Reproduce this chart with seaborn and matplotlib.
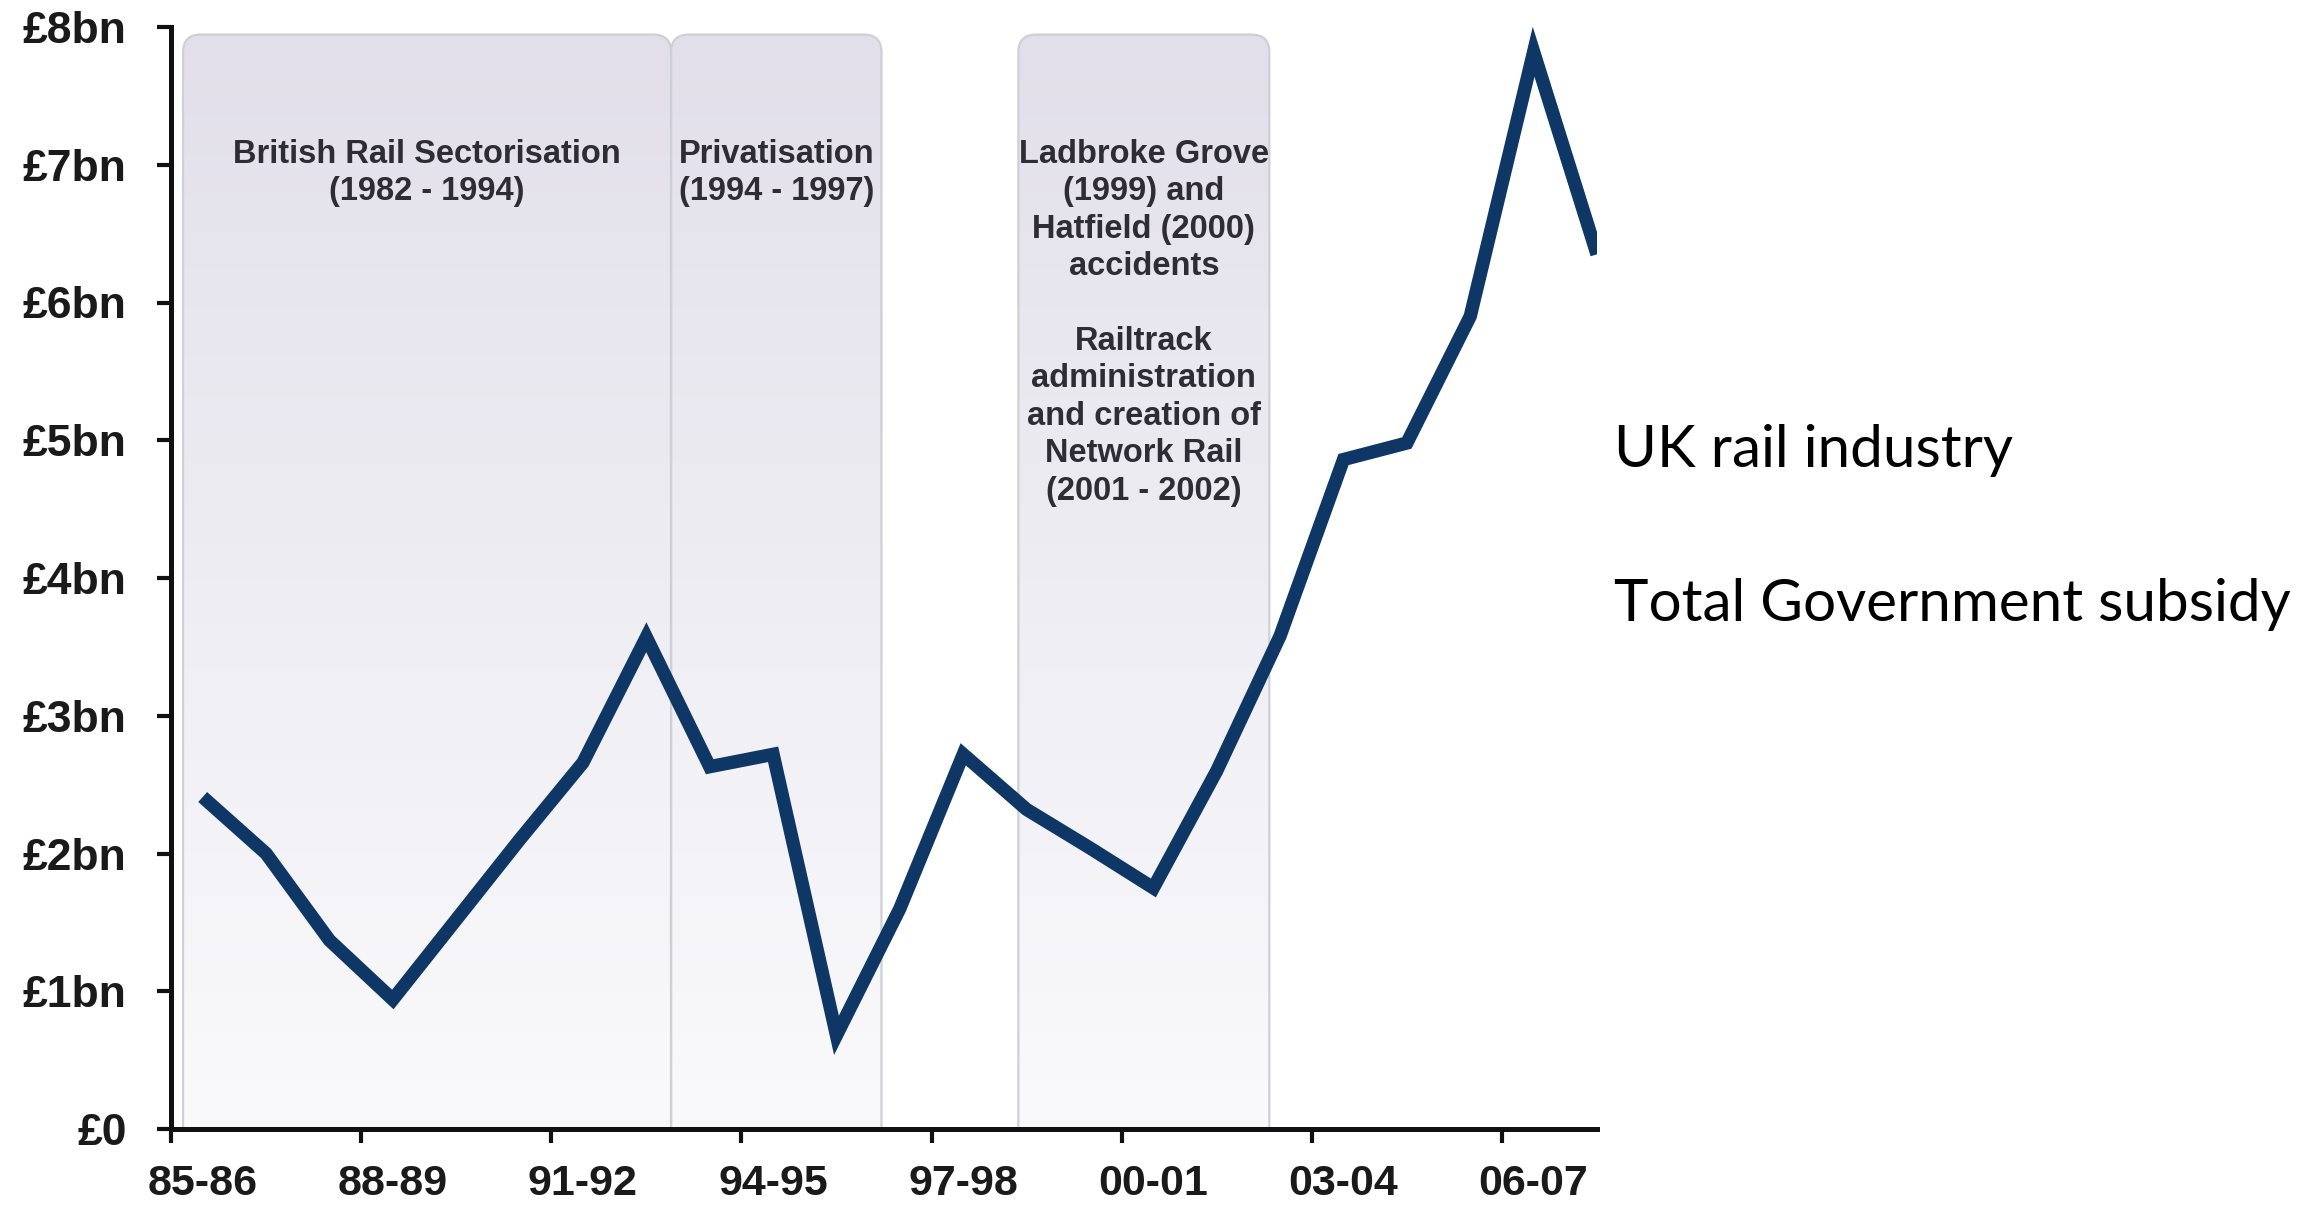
import numpy as np
import pandas as pd
import matplotlib
matplotlib.use("Agg")
import matplotlib.pyplot as plt
import seaborn as sns
from matplotlib.patches import FancyBboxPatch
from matplotlib.colors import LinearSegmentedColormap

# ---------------- data ----------------
years = ["85-86", "86-87", "87-88", "88-89", "89-90", "90-91", "91-92", "92-93",
         "93-94", "94-95", "95-96", "96-97", "97-98", "98-99", "99-00", "00-01",
         "01-02", "02-03", "03-04", "04-05", "05-06", "06-07", "07-08"]
subsidy_bn = [2.41, 2.00, 1.37, 0.94, 1.52, 2.10, 2.66, 3.57,
              2.63, 2.72, 0.68, 1.60, 2.72, 2.32, 2.04, 1.75,
              2.60, 3.58, 4.86, 4.98, 5.90, 7.82, 6.35]
y_tick_values = [0, 1, 2, 3, 4, 5, 6, 7, 8]
y_tick_labels = ["£0", "£1bn", "£2bn", "£3bn", "£4bn", "£5bn", "£6bn", "£7bn", "£8bn"]
x_label_every = 3

period_texts = [
    "British Rail Sectorisation\n(1982 - 1994)",
    "Privatisation\n(1994 - 1997)",
    "Ladbroke Grove\n(1999) and\nHatfield (2000)\naccidents\n\nRailtrack\nadministration\nand creation of\nNetwork Rail\n(2001 - 2002)",
]
# span of each period band, in year-category index units
period_start = [-0.31, 7.39, 12.87]
period_end = [7.39, 10.71, 16.83]

side_texts = ["UK rail industry", "Total Government subsidy"]

# ---------------- style ----------------
sns.set_theme(style="white")
plt.rcParams["font.family"] = ["Liberation Sans", "DejaVu Sans"]

W, H = 2323, 1208
fig = plt.figure(figsize=(W / 100, H / 100), dpi=100)
fig.patch.set_facecolor("white")

ax_left, ax_right, ax_top, ax_bottom = 171, 1597, 27, 1129
ax = fig.add_axes([ax_left / W, 1 - ax_bottom / H,
                   (ax_right - ax_left) / W, (ax_bottom - ax_top) / H])
ax.set_facecolor("white")

df = pd.DataFrame({"idx": np.arange(len(years)), "year": years, "subsidy": subsidy_bn})

xlim = (-0.5, 22.0)
ylim = (0, 8)

# ---------------- period bands ----------------
cmap = LinearSegmentedColormap.from_list("band", ["#fafafc", "#eeedf3", "#e2dfea"])
grad = np.linspace(0, 1, 256).reshape(-1, 1)
band_top = 7.945
px_per_x = (ax_right - ax_left) / (xlim[1] - xlim[0])
px_per_y = (ax_bottom - ax_top) / (ylim[1] - ylim[0])
m_aspect = px_per_x / px_per_y
for x0, x1, txt in zip(period_start, period_end, period_texts):
    patch = FancyBboxPatch((x0, -1.0), x1 - x0, band_top + 1.0,
                           boxstyle="round,pad=0,rounding_size=0.28",
                           mutation_aspect=m_aspect,
                           facecolor="none", edgecolor="#cfcfd6", linewidth=1.6,
                           transform=ax.transData, zorder=2)
    ax.add_patch(patch)
    im = ax.imshow(grad, extent=[x0, x1, 0, band_top], origin="lower",
                   aspect="auto", cmap=cmap, zorder=1, interpolation="bilinear")
    im.set_clip_path(patch)
    ax.text((x0 + x1) / 2, 7.19, txt, ha="center", va="top",
            fontsize=23.5, fontweight="bold", color="#2e2d36",
            linespacing=1.27, zorder=4)

# ---------------- line ----------------
sns.lineplot(data=df, x="idx", y="subsidy", ax=ax, color="#0f3766",
             linewidth=9.6, zorder=5, legend=False)
for ln in ax.lines:
    ln.set_solid_joinstyle("miter")
    ln.set_solid_capstyle("butt")

ax.set_xlim(*xlim)
ax.set_ylim(*ylim)
ax.set_xlabel("")
ax.set_ylabel("")

# ---------------- axes / ticks ----------------
for side in ["top", "right"]:
    ax.spines[side].set_visible(False)
for side in ["left", "bottom"]:
    ax.spines[side].set_visible(True)
    ax.spines[side].set_color("#111111")
    ax.spines[side].set_linewidth(3.6)
    ax.spines[side].set_zorder(6)

ax.set_yticks(y_tick_values)
ax.set_yticklabels(y_tick_labels)
ax.tick_params(axis="y", which="major", direction="out", length=10, width=3,
               color="#111111", pad=22, labelsize=32, labelcolor="#1a1a1a", left=True)
for t in ax.get_yticklabels():
    t.set_fontweight("bold")

major_x = np.arange(-0.5, len(years), x_label_every)
ax.set_xticks(major_x)
ax.set_xticklabels([""] * len(major_x))
label_pos = np.arange(0, len(years), x_label_every)
ax.set_xticks(label_pos, minor=True)
ax.set_xticklabels([years[i] for i in label_pos], minor=True)
ax.tick_params(axis="x", which="major", direction="out", length=10, width=3,
               color="#111111", bottom=True)
ax.tick_params(axis="x", which="minor", length=0, pad=25, labelsize=31,
               labelcolor="#1a1a1a", bottom=True)
for t in ax.get_xticklabels(minor=True):
    t.set_fontweight("bold")
ax.grid(False)

# ---------------- side text ----------------
fig.text(1614 / W, 1 - 467 / H, side_texts[0], ha="left", va="baseline",
         fontsize=42, color="black", family=["Lato", "DejaVu Sans"])
fig.text(1614 / W, 1 - 621 / H, side_texts[1], ha="left", va="baseline",
         fontsize=42, color="black", family=["Lato", "DejaVu Sans"])

fig.savefig("out.png", dpi=100, facecolor="white")
